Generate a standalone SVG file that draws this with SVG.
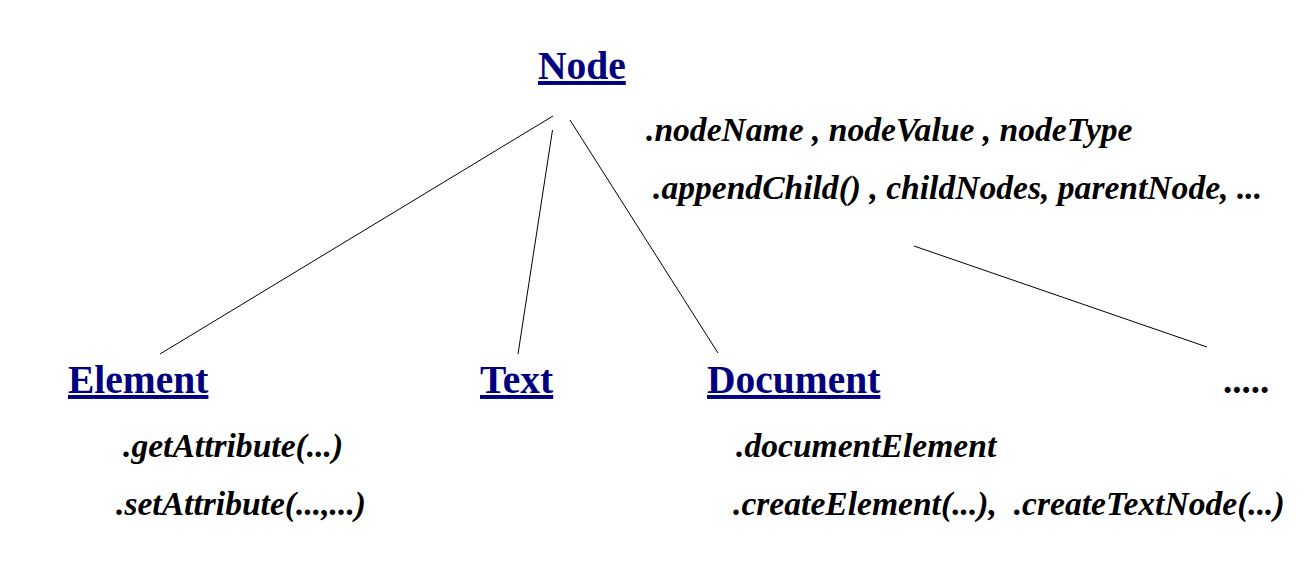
<svg xmlns="http://www.w3.org/2000/svg" width="1313" height="579" viewBox="0 0 1313 579">
<style>
.title{font-family:"Liberation Serif","Times New Roman",serif;font-weight:bold;font-size:39.5px;fill:#000080;text-decoration:underline;}
.m{font-family:"Liberation Serif","Times New Roman",serif;font-weight:bold;font-style:italic;font-size:33.6px;fill:#000;}
.dots{font-family:"Liberation Serif","Times New Roman",serif;font-weight:bold;font-size:37px;fill:#000;}
.c line{stroke:#000;stroke-width:1;}
</style>
<rect width="1313" height="579" fill="#fff"/>
<g class="c" id="connectors">
<line x1="553" y1="116" x2="160" y2="354"/>
<line x1="552.5" y1="130" x2="518" y2="354"/>
<line x1="570" y1="120" x2="718" y2="353"/>
<line x1="914" y1="246" x2="1207" y2="347"/>
</g>
<g id="node-node">
<text class="title" x="538" y="79">Node</text>
<text class="m" x="646" y="141">.nodeName , nodeValue , nodeType</text>
<text class="m" x="653" y="199">.appendChild() , childNodes, parentNode, ...</text>
</g>
<g id="node-element">
<text class="title" x="68" y="393">Element</text>
<text class="m" x="123" y="457">.getAttribute(...)</text>
<text class="m" x="116" y="515">.setAttribute(...,...)</text>
</g>
<g id="node-text">
<text class="title" x="480" y="393">Text</text>
</g>
<g id="node-document">
<text class="title" x="707" y="393">Document</text>
<text class="m" x="736" y="457">.documentElement</text>
<text class="m" x="733" y="515" xml:space="preserve">.createElement(...),  .createTextNode(...)</text>
</g>
<g id="node-more">
<text class="dots" x="1223" y="393">.....</text>
</g>
</svg>
